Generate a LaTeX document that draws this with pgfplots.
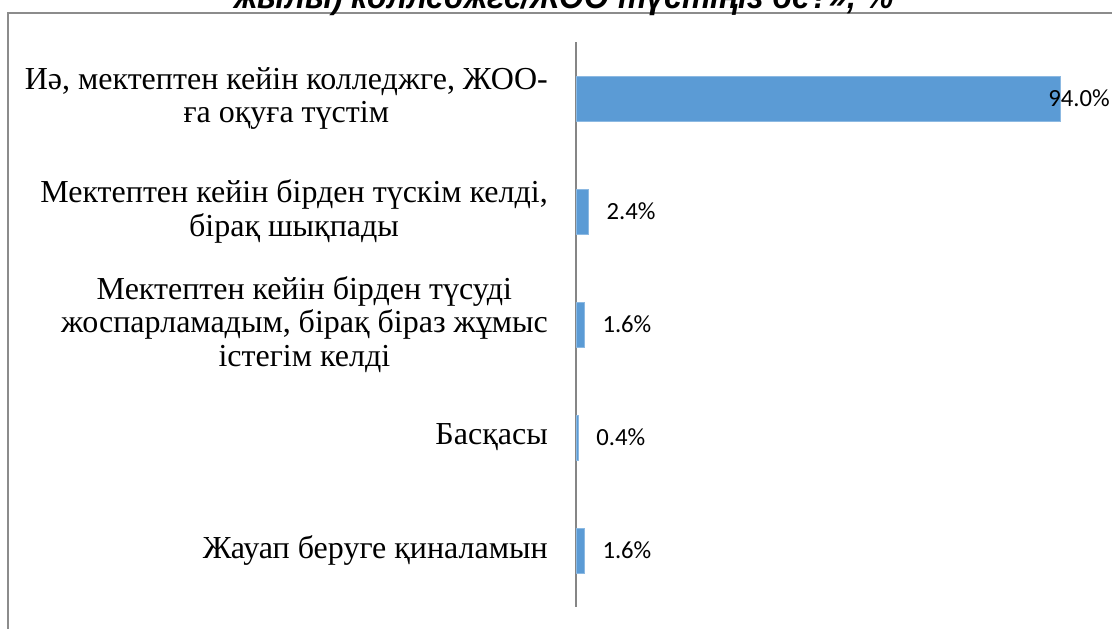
\documentclass[border=0pt]{standalone}
\usepackage{fontspec}
\usepackage{pgfplots}
\pgfplotsset{compat=1.18}
\newfontfamily\labfont{Liberation Serif}
\newfontfamily\numfont{Carlito}
\newfontfamily\titfont[FakeStretch=0.92]{Liberation Sans}
\definecolor{barblue}{HTML}{5B9BD5}
\definecolor{axgray}{HTML}{868686}
\definecolor{framegray}{HTML}{8C8C8C}
\begin{document}
\begin{tikzpicture}[x=0.75pt,y=0.75pt]
\useasboundingbox (0,0) rectangle (1112,628);
\clip (0,0) rectangle (1112,628);
\draw[color=framegray, line width=1.3pt] (8,-20) -- (8,615) -- (1140,615);
\node[font=\titfont\bfseries\itshape\fontsize{26}{28}\selectfont, anchor=base, inner sep=0pt] at (564,619) {жылы) колледжге/ЖОО түстіңіз бе?», \%};
\begin{axis}[
  at={(432pt,15.75pt)}, anchor=south west,
  scale only axis, width=386.25pt, height=423.75pt,
  xbar, bar width=33.75pt, bar shift=0pt,
  xmin=0, xmax=100, ymin=-0.5, ymax=4.5, y dir=reverse,
  axis x line=none, axis y line=left,
  y axis line style={-, draw=axgray, line width=0.9pt},
  ytick={0,1,2,3,4}, major tick length=0pt,
  yticklabels={{Иә, мектептен кейін колледжге, ЖОО-\\ға оқуға түстім},
    {Мектептен кейін бірден түскім келді,\\бірақ шықпады},
    {Мектептен кейін бірден түсуді\\жоспарламадым, бірақ біраз жұмыс\\істегім келді},
    {Басқасы},
    {Жауап беруге қиналамын}},
  yticklabel style={font=\labfont\fontsize{24}{25}\selectfont, align=center, inner sep=0pt, xshift=-21pt},
  /pgf/number format/assume math mode=true,
  nodes near coords={\pgfmathprintnumber[fixed,fixed zerofill,precision=1,assume math mode=true]{\pgfplotspointmeta}\%},
  nodes near coords style={font=\numfont\fontsize{18.5}{20}\selectfont, anchor=west, inner sep=0pt, text=black},
  clip=false,
]
\addplot[fill=barblue, draw=barblue!70!white, line width=0.4pt, nodes near coords style={xshift=-9pt}] coordinates {(94.0,0)};
\addplot[fill=barblue, draw=barblue!70!white, line width=0.4pt, nodes near coords style={xshift=13.5pt}] coordinates {(2.4,1) (1.6,2) (0.4,3) (1.6,4)};
\end{axis}
\end{tikzpicture}
\end{document}
